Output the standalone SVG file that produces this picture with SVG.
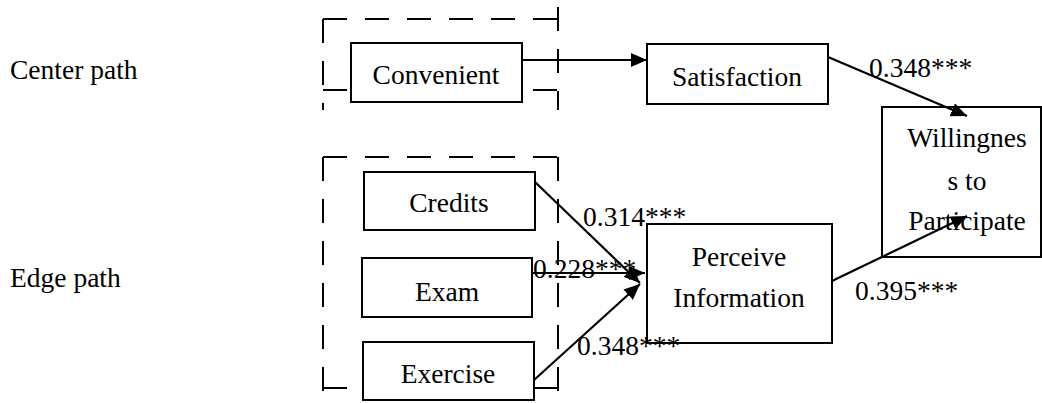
<svg xmlns="http://www.w3.org/2000/svg" width="1042" height="403" viewBox="0 0 1042 403">
<defs>
<style>
text{font-family:'Liberation Serif','Times New Roman','DejaVu Serif',serif;font-size:27.5px;fill:#000}
.c{text-anchor:middle}
.box{fill:#fff;stroke:#000;stroke-width:2}
.dash{fill:none;stroke:#000;stroke-width:2;stroke-dasharray:24 18}
.edge{fill:none;stroke:#000;stroke-width:2.2}
</style>
<marker id="ah" viewBox="0 0 16 14" refX="16" refY="7" markerWidth="16" markerHeight="14" markerUnits="userSpaceOnUse" orient="auto">
<path d="M0,0 L16,7 L0,14 Z" fill="#000"/>
</marker>
</defs>
<rect width="1042" height="403" fill="#fff"/>
<g id="labels" font-family="Liberation Serif, serif">
<text x="10" y="79">Center path</text>
<text x="10" y="287">Edge path</text>
</g>
<g id="groups">
<path class="dash" d="M323,19 H558 M323,19 V110 M558,7 V110 M323,90 H558"/>
<path class="dash" d="M323,157 H558 M323,157 V403 M558,157 V403 M323,388 H558"/>
</g>
<g id="connectors">
<path class="edge" d="M522,60 L647,60" marker-end="url(#ah)"/>
<path class="edge" d="M828,57 L967,116" marker-end="url(#ah)"/>
<path class="edge" d="M535,182 L640,283" marker-end="url(#ah)"/>
<path class="edge" d="M532,273 L645,273" marker-end="url(#ah)"/>
<path class="edge" d="M534,380 L640,284" marker-end="url(#ah)"/>
<path class="edge" d="M832,281 L967,216" marker-end="url(#ah)"/>
</g>
<g id="node-convenient">
<rect class="box" x="351" y="43" width="171" height="59"/>
<text class="c" x="436" y="84">Convenient</text>
</g>
<g id="node-satisfaction">
<rect class="box" x="647" y="44" width="181" height="60"/>
<text class="c" x="737" y="86">Satisfaction</text>
</g>
<g id="node-willingness">
<rect x="882" y="107" width="159" height="150" fill="none" stroke="#000" stroke-width="2"/>
<text class="c" x="967" y="147">Willingnes</text>
<text class="c" x="967" y="190">s to</text>
<text class="c" x="967" y="230">Participate</text>
</g>
<g id="node-credits">
<rect class="box" x="364" y="172" width="171" height="58"/>
<text class="c" x="449" y="212">Credits</text>
</g>
<g id="node-exam">
<rect class="box" x="362" y="258" width="170" height="59"/>
<text class="c" x="447" y="301">Exam</text>
</g>
<g id="node-exercise">
<rect class="box" x="363" y="342" width="171" height="58"/>
<text class="c" x="448" y="383">Exercise</text>
</g>
<g id="node-perceive">
<rect class="box" x="647" y="224" width="185" height="119"/>
<text class="c" x="739" y="266">Perceive</text>
<text class="c" x="739" y="307">Information</text>
</g>
<g id="edge-labels">
<text x="869" y="77">0.348***</text>
<text x="583" y="226">0.314***</text>
<text x="533" y="278">0.228***</text>
<text x="577" y="355">0.348***</text>
<text x="855" y="300">0.395***</text>
</g>
</svg>
